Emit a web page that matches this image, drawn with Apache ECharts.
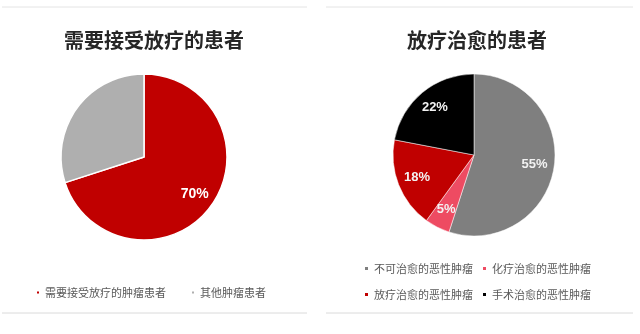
<!DOCTYPE html>
<html>
<head>
<meta charset="utf-8">
<script src="https://cdn.jsdelivr.net/npm/echarts@6/dist/echarts.min.js"></script>
<style>
  html, body { margin: 0; padding: 0; background: #fff; }
  #chart { width: 640px; height: 334px; }
</style>
</head>
<body>
<div id="chart"></div>
<script>
"use strict";
// 左图：需要接受放疗的患者
var leftTitle = "需要接受放疗的患者";
var leftNames = ["需要接受放疗的肿瘤患者", "其他肿瘤患者"];
var leftValues = [70, 30];
var leftColors = ["#C00000", "#AFAFAF"];

// 右图：放疗治愈的患者
var rightTitle = "放疗治愈的患者";
var rightNames = ["不可治愈的恶性肿瘤", "化疗治愈的恶性肿瘤", "放疗治愈的恶性肿瘤", "手术治愈的恶性肿瘤"];
var rightValues = [55, 5, 18, 22];
var rightColors = ["#7F7F7F", "#EE4B62", "#C00000", "#000000"];

var fontCJK = '"Noto Sans CJK SC", sans-serif';

function toData(names, values, colors) {
    return names.map(function (n, i) {
        return { name: n, value: values[i], itemStyle: { color: colors[i] } };
    });
}

// 只用于放置百分比标签的透明环（标签落在约 0.72 半径处）
function labelRing(center, r, names, values, show, labelStyle) {
    return {
        type: "pie",
        center: center,
        radius: [r * 0.44, r],
        startAngle: 90,
        clockwise: true,
        silent: true,
        legendHoverLink: false,
        itemStyle: { color: "rgba(0,0,0,0)", borderWidth: 0 },
        label: Object.assign({ position: "inside", formatter: "{d}%" }, labelStyle),
        labelLine: { show: false },
        data: names.map(function (n, i) {
            var d = { name: n, value: values[i] };
            if (!show[i]) d.label = { show: false };
            return d;
        })
    };
}

var legendText = { color: "#595959", fontSize: 11, fontFamily: fontCJK };

var chart = echarts.init(document.getElementById("chart"));
chart.setOption({
    animation: false,
    title: [
        { text: leftTitle, left: 149, top: 25, textAlign: "center",
          textStyle: { fontSize: 20, fontWeight: "bold", color: "#262626", fontFamily: fontCJK } },
        { text: rightTitle, left: 472, top: 25, textAlign: "center",
          textStyle: { fontSize: 20, fontWeight: "bold", color: "#262626", fontFamily: fontCJK } }
    ],
    legend: [
        { data: leftNames, left: 30, top: 282, icon: "rect", itemWidth: 4, itemHeight: 4,
          itemGap: 24, textStyle: legendText },
        { data: rightNames.slice(0, 2), left: 358, top: 258, icon: "rect", itemWidth: 5, itemHeight: 5,
          itemGap: 8, textStyle: legendText },
        { data: rightNames.slice(2, 4), left: 358, top: 284, icon: "rect", itemWidth: 5, itemHeight: 5,
          itemGap: 8, textStyle: legendText }
    ],
    graphic: [
        { type: "line", shape: { x1: 2, y1: 7, x2: 307, y2: 7 }, style: { stroke: "#E4E4E4", lineWidth: 1 } },
        { type: "line", shape: { x1: 2, y1: 313, x2: 307, y2: 313 }, style: { stroke: "#DADADA", lineWidth: 1 } },
        { type: "line", shape: { x1: 326, y1: 7, x2: 633, y2: 7 }, style: { stroke: "#E4E4E4", lineWidth: 1 } },
        { type: "line", shape: { x1: 326, y1: 313, x2: 633, y2: 313 }, style: { stroke: "#DADADA", lineWidth: 1 } }
    ],
    series: [
        {
            type: "pie",
            center: [144, 157],
            radius: 83,
            startAngle: 90,
            clockwise: true,
            itemStyle: { borderColor: "#fff", borderWidth: 1.5 },
            label: { show: false },
            labelLine: { show: false },
            data: toData(leftNames, leftValues, leftColors)
        },
        {
            type: "pie",
            center: [474, 155],
            radius: 81,
            startAngle: 90,
            clockwise: true,
            itemStyle: { borderColor: "#fff", borderWidth: 0.5 },
            label: { show: false },
            labelLine: { show: false },
            data: toData(rightNames, rightValues, rightColors)
        },
        labelRing([144, 157], 83, leftNames, leftValues, [true, false],
            { color: "#fff", fontSize: 14, fontWeight: "bold", fontFamily: "Arial, sans-serif" }),
        labelRing([474, 155], 81, rightNames, rightValues, [true, true, true, true],
            { color: "#F2F2F2", fontSize: 13, fontWeight: "bold", fontFamily: "Arial, sans-serif" })
    ]
});
</script>
</body>
</html>
